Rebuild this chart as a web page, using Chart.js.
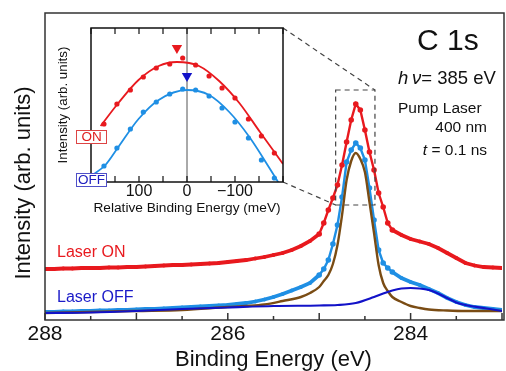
<!DOCTYPE html>
<html>
<head>
<meta charset="utf-8">
<script src="https://cdn.jsdelivr.net/npm/chart.js@4.4.1/dist/chart.umd.min.js"></script>
<style>
  body { margin: 0; background: #fff; }
  #wrap { position: relative; width: 506px; height: 371px; overflow: hidden; font-family: 'Liberation Sans', Arial, sans-serif; color: #111; }
  canvas { position: absolute; }
  .txt { position: absolute; line-height: 1; white-space: nowrap; }
  .tag { position: absolute; box-sizing: border-box; width: 31px; height: 14px; background: #fff; font-size: 13.5px; line-height: 12px; text-align: center; }
</style>
</head>
<body>
<div id="wrap">
  <canvas id="mainChart" width="506" height="371" style="left:0;top:0"></canvas>
  <canvas id="insetChart" width="260" height="200" style="left:40px;top:20px"></canvas>

  <div class="txt" style="left:-106.6px;top:172px;width:260px;height:22px;line-height:22px;font-size:22px;text-align:center;transform:rotate(-90deg)">Intensity (arb. units)</div>

  <div class="txt" style="left:417px;top:24.6px;font-size:30px">C 1s</div>
  <div class="txt" style="left:398px;top:69.3px;font-size:18.5px"><i>h</i>&thinsp;<i>ν</i>= 385 eV</div>
  <div class="txt" style="left:398px;top:99.9px;font-size:15.5px">Pump Laser</div>
  <div class="txt" style="right:19px;top:118.9px;font-size:15.5px">400 nm</div>
  <div class="txt" style="right:19px;top:141.9px;font-size:15.5px"><i>t</i> = 0.1 ns</div>

  <div class="txt" style="left:57px;top:243.5px;font-size:16px;color:#e8191e">Laser ON</div>
  <div class="txt" style="left:57px;top:288.5px;font-size:16px;color:#1a1ac8">Laser OFF</div>

  <div class="tag" style="left:76px;top:130px;border:1px solid #d44;color:#e02020">ON</div>
  <div class="tag" style="left:76px;top:173px;border:1px solid #5050c8;color:#2020c0">OFF</div>
</div>

<script>
// C 1s spectra, binding energy in eV, intensity in arbitrary units
const energy = [288.0, 287.9, 287.8, 287.7, 287.6, 287.5, 287.4, 287.3, 287.2, 287.1,
    287.0, 286.9, 286.8, 286.7, 286.6, 286.5, 286.4, 286.3, 286.2, 286.1,
    286.0, 285.9, 285.8, 285.7, 285.6, 285.5, 285.4, 285.3, 285.2, 285.1,
    285.0, 284.95, 284.9, 284.85, 284.8, 284.75, 284.7, 284.65, 284.6, 284.55,
    284.5, 284.45, 284.4, 284.35, 284.3, 284.25, 284.2,
    284.1, 284.0, 283.9, 283.8, 283.7, 283.6, 283.5, 283.4, 283.3, 283.2, 283.1, 283.0];
const laserOn = [51, 51, 51.5, 51.5, 52, 52, 52, 52.5, 52.5, 53,
    53, 53.5, 54, 54.5, 55, 55, 55.5, 56, 56.5, 57,
    58, 59, 60, 61.5, 63, 65, 67, 70, 74, 79,
    86, 97, 110, 122, 135, 155, 178, 200, 216, 210,
    190, 168, 150, 127, 113, 97, 90,
    85, 81, 78.5, 76, 72, 67, 62, 57, 54.5, 53, 52.5, 52];
const laserOff = [8, 8, 8.5, 8.5, 9, 9, 9.5, 9.5, 10, 10,
    10.5, 11, 11, 11.5, 12, 12.5, 13, 13.5, 14, 14.5,
    15, 16, 17, 18.5, 20.5, 23, 26, 29.5, 33, 37,
    45, 51, 60, 76, 95, 123, 158, 170, 177, 172,
    160, 132, 100, 70, 57, 52, 48,
    42, 38, 35, 31, 27, 22, 18, 15, 13, 12, 11, 10];

// fitted components (laser OFF)
const fitEnergy = [288.0, 287.5, 287.0, 286.5, 286.0, 285.8, 285.6, 285.4, 285.2, 285.1,
    285.0, 284.95, 284.9, 284.85, 284.8, 284.75, 284.7, 284.65, 284.6, 284.55,
    284.5, 284.45, 284.4, 284.35, 284.3, 284.25, 284.2, 284.1, 284.0, 283.9,
    283.8, 283.6, 283.4, 283.0];
const mainPeak = [7, 8, 9, 10, 13, 14, 15.5, 19, 23, 27,
    33, 39, 45, 56, 75, 105, 140, 159, 167, 161,
    148, 118, 87, 55, 37, 29, 23, 18, 14, 12,
    10.5, 9.5, 9, 9];
const subEnergy = [288.0, 287.5, 287.0, 286.5, 286.0, 285.5, 285.0, 284.8, 284.6, 284.4,
    284.3, 284.2, 284.1, 284.0, 283.9, 283.8, 283.7, 283.6, 283.5, 283.4, 283.2, 283.0];
const subPeak = [7, 7.5, 9, 11, 12.5, 14, 14.5, 15, 17, 23,
    26.5, 29.5, 31.5, 32, 31.5, 30, 26.5, 22, 17.5, 15, 12, 9];

// zoomed region shown in the inset (eV / intensity)
const zoomBox = { xFrom: 284.82, xTo: 284.39, yFrom: 115, yTo: 230 };
// where the data markers are drawn as separate dots
const dotWindow = [284.18, 285.05];

// inset: relative binding energy in meV
const relShift = [173, 146, 118, 91, 64, 36, 9, -18, -46, -73, -100, -128, -155, -182];
const insetOn = [58, 78, 92, 105, 114, 118, 124, 117, 106, 94, 84, 63, 46, 29];
const insetOff = [16, 34, 53, 70, 80, 88, 93, 92, 86, 74, 60, 44, 22, 4];
const onFitShift = [180, 143, 101, 59, 21, -25, -67, -109, -152, -200];
const onFit = [56, 79, 102, 116, 120, 116, 101, 79, 50, 18];
const offFitShift = [200, 170, 143, 101, 59, 0, -46, -88, -130, -173, -200];
const offFit = [6, 17, 35, 63, 82, 92, 87, 70, 45, 13, -8];
const peakMarks = { on: [21, 134], off: [0, 106] };
const insetLabels = [100, 0, -100];

const RED = '#e8191e';
const SKY = '#1f8fe4';
const NAVY = '#1212c8';
const BROWN = '#7a4c14';
const FONT = "'Liberation Sans', Arial, sans-serif";

const pts = (xs, ys) => xs.map((x, i) => ({ x: x, y: ys[i] }));
const inDots = v => v >= dotWindow[0] && v <= dotWindow[1];

// inset first, the main chart needs its corners for the dashed guide lines
const insetPlot = new Chart(document.getElementById('insetChart'), {
    type: 'line',
    data: {
        datasets: [
            { data: [{ x: peakMarks.on[0], y: peakMarks.on[1] }], showLine: false, pointStyle: 'triangle', rotation: 180,
              pointRadius: 6, backgroundColor: RED, borderColor: RED, pointBorderWidth: 0 },
            { data: [{ x: peakMarks.off[0], y: peakMarks.off[1] }], showLine: false, pointStyle: 'triangle', rotation: 180,
              pointRadius: 6, backgroundColor: NAVY, borderColor: NAVY, pointBorderWidth: 0 },
            { data: pts(relShift, insetOn), showLine: false, pointRadius: 2.6, backgroundColor: RED, pointBorderWidth: 0 },
            { data: pts(relShift, insetOff), showLine: false, pointRadius: 2.6, backgroundColor: SKY, pointBorderWidth: 0 },
            { data: pts(onFitShift, onFit), borderColor: RED, borderWidth: 1.8, pointRadius: 0, cubicInterpolationMode: 'monotone' },
            { data: pts(offFitShift, offFit), borderColor: SKY, borderWidth: 1.8, pointRadius: 0, cubicInterpolationMode: 'monotone' }
        ]
    },
    options: {
        responsive: false,
        devicePixelRatio: 1,
        animation: false,
        layout: { padding: { top: 8, right: 17, left: 0, bottom: 0 } },
        plugins: { legend: { display: false }, tooltip: { enabled: false } },
        scales: {
            x: {
                type: 'linear', min: -200, max: 200, reverse: true,
                grid: { display: false, drawTicks: false }, border: { display: false },
                ticks: {
                    stepSize: 50, autoSkip: false, maxRotation: 0, padding: 0, color: '#111',
                    font: { family: FONT, size: 16 },
                    callback: v => insetLabels.includes(v) ? String(v).replace('-', '\u2212') : ''
                },
                title: { display: true, text: 'Relative Binding Energy (meV)', color: '#111',
                         font: { family: FONT, size: 13.7 }, padding: { top: 0, bottom: 4 } },
                afterFit: s => { s.height = 38; }
            },
            y: {
                min: 0, max: 154,
                grid: { display: false, drawTicks: false }, border: { display: false },
                ticks: { display: false },
                title: { display: true, text: 'Intensity (arb. units)', color: '#111',
                         font: { family: FONT, size: 13.3 }, padding: { top: 15, bottom: 0 } },
                afterFit: s => { s.width = 51; }
            }
        }
    },
    plugins: [{
        id: 'insetFrame',
        beforeDatasetsDraw(chart) {
            const { ctx, chartArea: a, scales: { x } } = chart;
            ctx.save();
            ctx.fillStyle = '#fff';
            ctx.fillRect(a.left, a.top, a.right - a.left, a.bottom - a.top);
            const x0 = x.getPixelForValue(0);
            ctx.strokeStyle = '#555';
            ctx.lineWidth = 1;
            ctx.beginPath();
            ctx.moveTo(x0, a.top);
            ctx.lineTo(x0, a.bottom);
            ctx.stroke();
            ctx.restore();
        },
        afterDraw(chart) {
            const { ctx, chartArea: a, scales: { x } } = chart;
            ctx.save();
            ctx.strokeStyle = '#111';
            ctx.lineWidth = 1.5;
            ctx.strokeRect(a.left, a.top, a.right - a.left, a.bottom - a.top);
            ctx.lineWidth = 1.2;
            ctx.beginPath();
            x.ticks.forEach(t => {
                const px = x.getPixelForValue(t.value);
                ctx.moveTo(px, a.bottom);
                ctx.lineTo(px, a.bottom - 6);
                ctx.moveTo(px, a.top);
                ctx.lineTo(px, a.top + 6);
            });
            ctx.stroke();
            ctx.restore();
        }
    }]
});

const insetCanvas = document.getElementById('insetChart');

// measured spectra: thick noisy trace off-peak, dots plus thinner line on the peak
function spectrum(label, values, color) {
    return {
        label: label,
        data: pts(energy, values),
        borderColor: color,
        backgroundColor: color,
        borderWidth: 2.4,
        pointBorderWidth: 0,
        pointRadius: c => inDots(c.raw.x) ? 2.8 : 1.9,
        segment: {
            borderWidth: s => (inDots(s.p0.parsed.x) && inDots(s.p1.parsed.x)) ? 2.4 : 3.8
        }
    };
}

new Chart(document.getElementById('mainChart'), {
    type: 'line',
    data: {
        datasets: [
            { label: 'sub', data: pts(subEnergy, subPeak), borderColor: NAVY, borderWidth: 2.2, pointRadius: 0, cubicInterpolationMode: 'monotone' },
            { label: 'main', data: pts(fitEnergy, mainPeak), borderColor: BROWN, borderWidth: 2.4, pointRadius: 0, cubicInterpolationMode: 'monotone' },
            spectrum('Laser OFF', laserOff, SKY),
            spectrum('Laser ON', laserOn, RED)
        ]
    },
    options: {
        responsive: false,
        devicePixelRatio: 1,
        animation: false,
        layout: { padding: { top: 13, right: 0, left: 0, bottom: 0 } },
        plugins: { legend: { display: false }, tooltip: { enabled: false } },
        scales: {
            x: {
                type: 'linear', min: 283, max: 288, reverse: true,
                grid: { display: false, drawTicks: false }, border: { display: false },
                ticks: {
                    stepSize: 0.5, autoSkip: false, maxRotation: 0, padding: 2, color: '#111',
                    font: { family: FONT, size: 21 },
                    callback: v => (v % 2 === 0 && v < 288.5) ? String(v) : ''
                },
                title: { display: true, text: 'Binding Energy (eV)', color: '#111',
                         font: { family: FONT, size: 22, lineHeight: 1 }, padding: 0 },
                afterFit: s => { s.height = 51; }
            },
            y: {
                min: 0, max: 307,
                grid: { display: false, drawTicks: false }, border: { display: false },
                ticks: { display: false },
                afterFit: s => { s.width = 45; }
            }
        }
    },
    plugins: [{
        id: 'mainFrame',
        afterDraw(chart) {
            const { ctx, chartArea: a, scales: { x, y } } = chart;
            ctx.save();
            ctx.strokeStyle = '#333';
            ctx.lineWidth = 1.5;
            ctx.strokeRect(a.left, a.top, a.right - a.left + 2, a.bottom - a.top);
            // inward ticks, longer on whole eV
            ctx.beginPath();
            x.ticks.forEach(t => {
                const px = x.getPixelForValue(t.value);
                const len = Number.isInteger(t.value) ? 7 : 4;
                ctx.moveTo(px, a.bottom);
                ctx.lineTo(px, a.bottom - len);
            });
            ctx.stroke();

            // dashed box around the peak and guides to the inset
            const bx1 = x.getPixelForValue(zoomBox.xFrom), bx2 = x.getPixelForValue(zoomBox.xTo);
            const by1 = y.getPixelForValue(zoomBox.yTo), by2 = y.getPixelForValue(zoomBox.yFrom);
            const ia = insetPlot.chartArea;
            const ox = insetCanvas.offsetLeft, oy = insetCanvas.offsetTop;
            ctx.strokeStyle = '#444';
            ctx.lineWidth = 1.2;
            ctx.setLineDash([5, 4]);
            ctx.strokeRect(bx1, by1, bx2 - bx1, by2 - by1);
            ctx.beginPath();
            ctx.moveTo(ox + ia.right, oy + ia.top);
            ctx.lineTo(bx2, by1);
            ctx.moveTo(ox + ia.right, oy + ia.bottom);
            ctx.lineTo(bx1, by2);
            ctx.stroke();
            ctx.restore();
        }
    }]
});
</script>
</body>
</html>
